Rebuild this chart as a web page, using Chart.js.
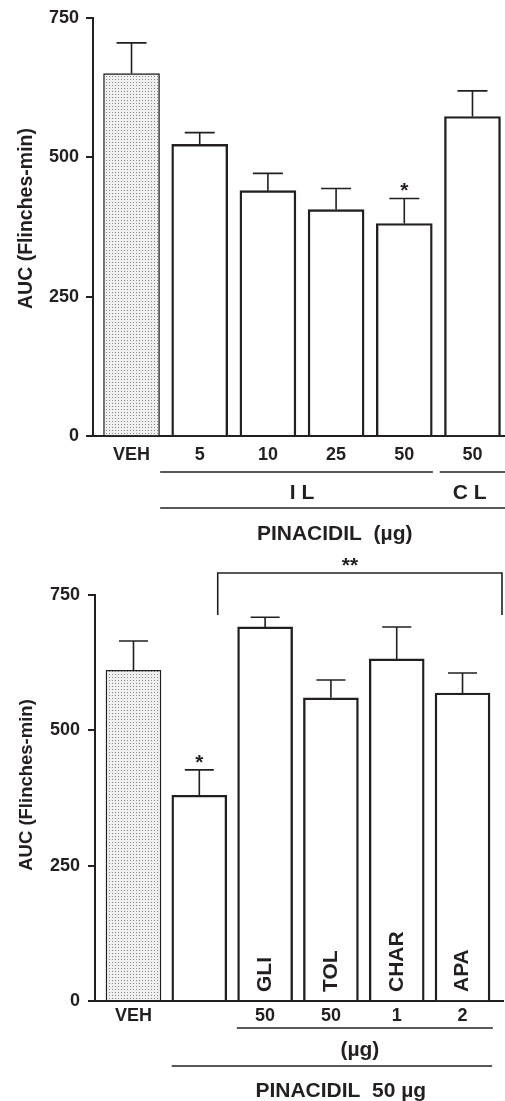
<!DOCTYPE html>
<html><head><meta charset="utf-8">
<script src="https://cdn.jsdelivr.net/npm/chart.js@4.4.1/dist/chart.umd.min.js"></script>
<style>
html,body{margin:0;padding:0;background:#fff;width:505px;height:1101px;overflow:hidden;}
canvas{display:block;position:absolute;left:0;}
#c1{top:0}
#c2{top:550px}
</style></head><body>
<canvas id="c1" width="505" height="550"></canvas>
<canvas id="c2" width="505" height="551"></canvas>
<script>
// ---- data ----
const yTicks = [0, 250, 500, 750];
const yTitle = 'AUC (Flinches-min)';

const topCategories = ['VEH', '5', '10', '25', '50', '50'];
const topValues = [650, 523, 440, 406, 381, 573];
const topErrors = [55, 21, 31, 38, 45, 46];
const topMarks = ['', '', '', '', '*', ''];

const bottomCategories = ['VEH', '', '50', '50', '1', '2'];
const bottomDrugs = ['', '', 'GLI', 'TOL', 'CHAR', 'APA'];
const bottomValues = [611, 380, 691, 560, 632, 569];
const bottomErrors = [54, 47, 18, 33, 59, 37];
const bottomMarks = ['', '*', '', '', '', ''];

// ---- style ----
const INK = '#231f20';
const FONT = '"Liberation Sans", Arial, Helvetica, sans-serif';

function stipple() {
  const c = document.createElement('canvas'); c.width = 3; c.height = 3;
  const g = c.getContext('2d');
  g.fillStyle = '#f0f0f0'; g.fillRect(0, 0, 3, 3);
  g.fillStyle = '#8a8a8a'; g.fillRect(1, 1, 1, 1);
  return g.createPattern(c, 'repeat');
}

function makeChart(canvas, o) {
  const annot = {
    id: 'annot',
    afterDatasetsDraw(chart) {
      const ctx = chart.ctx, ys = chart.scales.y, xs = chart.scales.x, ca = chart.chartArea;
      const meta = chart.getDatasetMeta(0);
      ctx.save();
      ctx.strokeStyle = INK; ctx.fillStyle = INK;
      meta.data.forEach((bar, i) => {
        const yTop = ys.getPixelForValue(o.values[i]);
        const yErr = ys.getPixelForValue(o.values[i] + o.errors[i]);
        ctx.lineWidth = 1.6;
        ctx.beginPath();
        ctx.moveTo(bar.x, yTop); ctx.lineTo(bar.x, yErr);
        ctx.moveTo(bar.x - o.cap / 2, yErr); ctx.lineTo(bar.x + o.cap / 2, yErr);
        ctx.stroke();
        if (o.marks[i]) {
          ctx.font = 'bold 21px ' + FONT; ctx.textAlign = 'center'; ctx.textBaseline = 'alphabetic';
          ctx.fillText(o.marks[i], bar.x, yErr - 1);
        }
        if (o.inner && o.inner[i]) {
          ctx.save();
          ctx.translate(bar.x, ca.bottom - 9);
          ctx.rotate(-Math.PI / 2);
          ctx.font = 'bold 21px ' + FONT; ctx.textAlign = 'left'; ctx.textBaseline = 'middle';
          ctx.fillText(o.inner[i], 0, 0);
          ctx.restore();
        }
      });
      ctx.lineWidth = 1.5;
      const px = v => v === 'end' ? ca.right : xs.getPixelForValue(v);
      o.lines.forEach(l => {
        ctx.beginPath();
        ctx.moveTo(px(l.from), ca.bottom + l.dy);
        ctx.lineTo(px(l.to), ca.bottom + l.dy);
        ctx.stroke();
      });
      ctx.font = 'bold 21px ' + FONT; ctx.textAlign = 'center'; ctx.textBaseline = 'middle';
      o.texts.forEach(t => ctx.fillText(t.text, px(t.x), ca.bottom + t.dy));
      if (o.bracket) {
        const b = o.bracket;
        ctx.lineWidth = 1.6;
        ctx.beginPath();
        ctx.moveTo(px(b.from), ca.top + b.down);
        ctx.lineTo(px(b.from), ca.top + b.up);
        ctx.lineTo(px(b.to), ca.top + b.up);
        ctx.lineTo(px(b.to), ca.top + b.down);
        ctx.stroke();
        ctx.font = 'bold 21px ' + FONT; ctx.textAlign = 'center'; ctx.textBaseline = 'alphabetic';
        ctx.fillText(b.text, px(b.x), ca.top + b.up - 1);
      }
      ctx.save();
      ctx.translate(o.titleX, o.titleY);
      ctx.rotate(-Math.PI / 2);
      ctx.font = 'bold ' + o.titleSize + 'px ' + FONT; ctx.textAlign = 'center'; ctx.textBaseline = 'middle';
      ctx.fillText(yTitle, 0, 0);
      ctx.restore();
      ctx.restore();
    }
  };

  return new Chart(canvas, {
    type: 'bar',
    data: {
      datasets: [{
        data: o.values.map((v, i) => ({ x: i, y: v })),
        backgroundColor: o.values.map((v, i) => i === 0 ? stipple() : '#ffffff'),
        borderColor: INK,
        borderWidth: o.values.map((v, i) => i === 0 ? 1.4 : 2.4),
        borderSkipped: 'start',
        barThickness: o.barW
      }]
    },
    options: {
      responsive: false, animation: false, devicePixelRatio: 1,
      layout: { padding: { top: o.top, right: o.right, left: 0, bottom: 0 } },
      plugins: { legend: { display: false }, tooltip: { enabled: false } },
      scales: {
        x: {
          type: 'linear', min: o.xmin, max: o.xmax, z: 1, offset: false,
          afterBuildTicks: s => { s.ticks = o.categories.map((c, i) => ({ value: i })); },
          afterFit: s => { s.height = o.xHeight; },
          grid: { display: false, drawTicks: false, offset: false },
          border: { display: true, color: INK, width: 2 },
          ticks: {
            autoSkip: false, maxRotation: 0, padding: o.xPad, color: INK,
            font: { family: FONT, size: 18, weight: 'bold' },
            callback: v => o.categories[v]
          }
        },
        y: {
          min: 0, max: 750, z: 1,
          afterBuildTicks: s => { s.ticks = yTicks.map(v => ({ value: v })); },
          afterFit: s => { s.width = o.left; },
          grid: { drawOnChartArea: false, drawTicks: true, tickLength: 7, color: INK, lineWidth: 2 },
          border: { display: true, color: INK, width: 2 },
          ticks: { padding: o.yPad, color: INK, font: { family: FONT, size: 18, weight: 'bold' } }
        }
      }
    },
    plugins: [annot]
  });
}

makeChart(document.getElementById('c1'), {
  categories: topCategories, values: topValues, errors: topErrors, marks: topMarks,
  top: 17, right: 0, left: 93, xHeight: 114, xmin: -0.565, xmax: 5.477,
  barW: 56, cap: 30, xPad: 8, yPad: 7,
  titleX: 27, titleY: 218.5, titleSize: 19.5,
  lines: [{ from: 0.42, to: 4.42, dy: 36 }, { from: 4.52, to: 'end', dy: 36 }, { from: 0.42, to: 'end', dy: 72 }],
  texts: [{ text: 'I L', x: 2.5, dy: 57 }, { text: 'C L', x: 4.96, dy: 57 }, { text: 'PINACIDIL  (µg)', x: 2.98, dy: 98 }]
});

makeChart(document.getElementById('c2'), {
  categories: bottomCategories, values: bottomValues, errors: bottomErrors, marks: bottomMarks,
  inner: bottomDrugs,
  top: 45, right: 2, left: 95, xHeight: 100, xmin: -0.585, xmax: 5.615,
  barW: 55, cap: 29, xPad: 4, yPad: 8,
  titleX: 27, titleY: 235, titleSize: 18.5,
  lines: [{ from: 1.57, to: 5.46, dy: 27 }, { from: 0.58, to: 5.45, dy: 65 }],
  texts: [{ text: '(µg)', x: 3.44, dy: 49 }, { text: 'PINACIDIL  50 µg', x: 3.15, dy: 90 }],
  bracket: { from: 1.28, to: 5.6, up: -22, down: 20, text: '**', x: 3.29 }
});
</script>
</body></html>
